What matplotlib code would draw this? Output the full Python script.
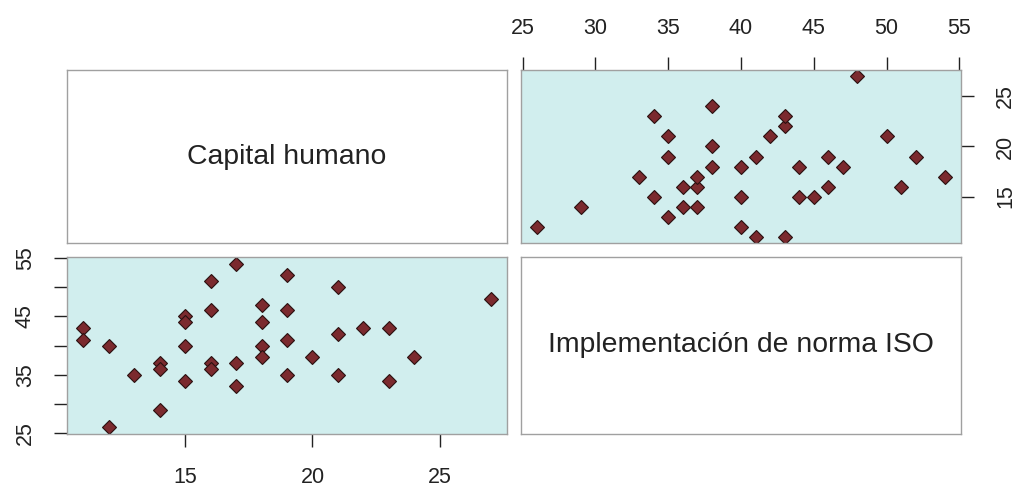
import numpy as np
import matplotlib.pyplot as plt

plt.rcParams['font.family'] = ['Liberation Sans', 'DejaVu Sans']

# datos (36 observaciones)
capital = [11, 11, 12, 12, 13, 14, 14, 14, 15, 15, 15, 15,
           16, 16, 16, 16, 17, 17, 17, 18, 18, 18, 18,
           19, 19, 19, 19, 20, 21, 21, 21, 22, 23, 23, 24, 27]
iso = [43, 41, 40, 26, 35, 37, 36, 29, 45, 44, 40, 34,
       51, 46, 37, 36, 54, 37, 33, 47, 44, 40, 38,
       52, 46, 41, 35, 38, 50, 42, 35, 43, 43, 34, 38, 48]
nombres = ['Capital humano', 'Implementación de norma ISO']

capital = np.array(capital)
iso = np.array(iso)


def rango(v):
    # como R: rango extendido un 4%
    d = (v.max() - v.min()) * 0.04
    return v.min() - d, v.max() + d


bg = '#d1eeee'
marker_col = '#7b2a2e'
frame = '#a0a0a0'
fs = 15.5

fig = plt.figure(figsize=(10.16, 4.91), dpi=100)
W = 1016.0
H = 491.0
ax_tl = fig.add_axes([67 / W, 1 - 243 / H, 440 / W, 173 / H])
ax_tr = fig.add_axes([521 / W, 1 - 243 / H, 440 / W, 173 / H])
ax_bl = fig.add_axes([67 / W, 1 - 434 / H, 440 / W, 177 / H])
ax_br = fig.add_axes([521 / W, 1 - 434 / H, 440 / W, 177 / H])

for ax in [ax_tl, ax_tr, ax_bl, ax_br]:
    for s in ax.spines.values():
        s.set_color(frame)
        s.set_linewidth(1.0)
    ax.tick_params(length=9.5, width=1.0, color='#222222', labelsize=fs,
                   labelcolor='#222222', direction='out')

# diagonal
for ax, txt in [(ax_tl, nombres[0]), (ax_br, nombres[1])]:
    ax.set_xticks([])
    ax.set_yticks([])
    ax.text(0.5, 0.5, txt, ha='center', va='center', fontsize=20.4,
            color='#222222', transform=ax.transAxes)

# arriba derecha: x = iso, y = capital
ax_tr.set_facecolor(bg)
ax_tr.plot(iso, capital, 'D', color=marker_col, mec='#2a1010', mew=0.8, ms=7)
ax_tr.set_xlim(rango(iso))
ax_tr.set_ylim(rango(capital))
ax_tr.set_xticks([25, 30, 35, 40, 45, 50, 55])
ax_tr.set_yticks([15, 20, 25])
ax_tr.xaxis.tick_top()
ax_tr.yaxis.tick_right()
ax_tr.tick_params(axis='x', pad=13)
ax_tr.tick_params(axis='y', pad=15)
for lab in ax_tr.get_yticklabels():
    lab.set_rotation(90)
    lab.set_va('center')

# abajo izquierda: x = capital, y = iso
ax_bl.set_facecolor(bg)
ax_bl.plot(capital, iso, 'D', color=marker_col, mec='#2a1010', mew=0.8, ms=7)
ax_bl.set_xlim(rango(capital))
ax_bl.set_ylim(rango(iso))
ax_bl.set_xticks([15, 20, 25])
ax_bl.set_yticks([25, 30, 35, 40, 45, 50, 55])
ax_bl.set_yticklabels(['25', '', '35', '', '45', '', '55'])
ax_bl.tick_params(axis='x', pad=14.5)
ax_bl.tick_params(axis='y', pad=13)
for lab in ax_bl.get_yticklabels():
    lab.set_rotation(90)
    lab.set_va('center')

fig.savefig('out.png', dpi=100)
